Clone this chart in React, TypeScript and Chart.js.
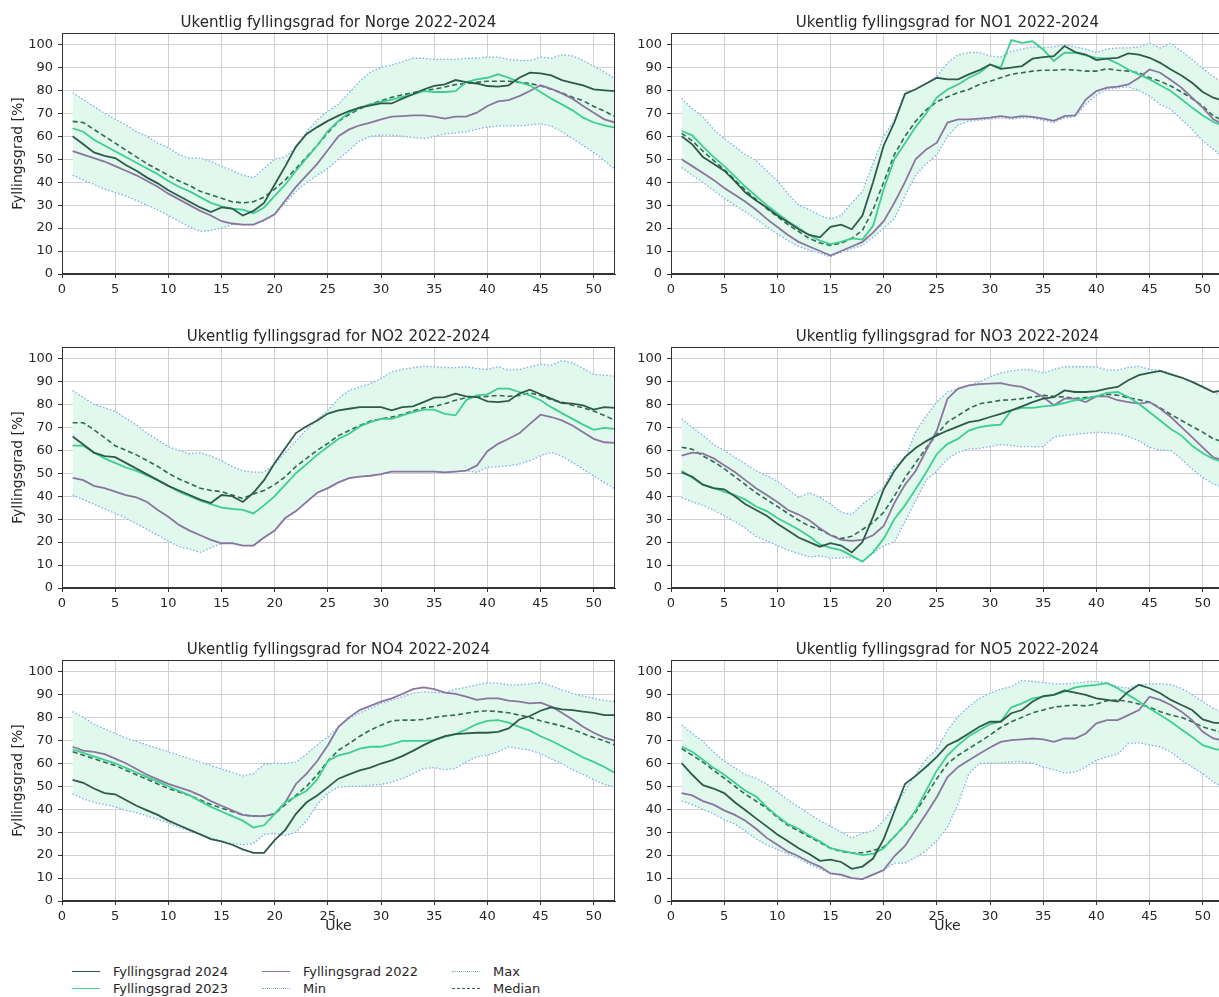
import React, { useEffect, useRef } from 'react';
import { Chart, registerables } from 'chart.js';

Chart.register(...registerables);

const WEEKS = [1, 2, 3, 4, 5, 6, 7, 8, 9, 10, 11, 12, 13, 14, 15, 16, 17, 18, 19, 20, 21, 22, 23, 24, 25, 26, 27, 28, 29, 30, 31, 32, 33, 34, 35, 36, 37, 38, 39, 40, 41, 42, 43, 44, 45, 46, 47, 48, 49, 50, 51, 52];

// ---- Norge ----
const NORGE_2024 = [60, 56.5, 53, 51.5, 50.5, 47.5, 45, 42, 39.5, 36.5, 34, 31.5, 29, 27, 29, 28.5, 25.5, 27.5, 31, 39, 47, 55.5, 61, 64, 66.7, 69, 71, 72.5, 73.5, 74.3, 74.3, 76.4, 78.3, 80.4, 82, 82.6, 84.5, 83.6, 83, 81.9, 81.6, 82.2, 85.5, 87.7, 87.4, 86.5, 84.5, 83.3, 82.2, 80.4, 80, 79.7];
const NORGE_2023 = [63.5, 62, 58.5, 56, 53.5, 51, 48.5, 46, 43.5, 40.5, 38, 36, 33.5, 31, 29.5, 28.5, 28, 26.5, 29, 34, 39, 45, 50.5, 56, 62.3, 66.7, 70.3, 72.5, 73.9, 75, 76, 77.2, 78.3, 79.7, 79.3, 79.3, 79.7, 83.6, 84.8, 85.5, 87, 85.5, 83.6, 82.2, 79.3, 76.4, 73.9, 71.3, 68.1, 66, 64.8, 63.8];
const NORGE_2022 = [53.5, 52, 50.5, 49, 47, 45, 43, 40.5, 38, 35, 32.5, 30, 27.5, 25.5, 23, 22, 21.5, 21.5, 23.5, 26, 32, 38, 43, 48, 54, 60, 63, 64.8, 66, 67.4, 68.6, 68.8, 69.1, 69.1, 68.6, 67.7, 68.6, 68.6, 70.3, 73.2, 75.2, 75.8, 77.5, 79.7, 82.2, 80.7, 78.7, 76.4, 73.2, 70.3, 67.4, 66];
const NORGE_MIN = [43, 41, 39, 37, 35.5, 34, 32, 30, 28, 25.5, 23, 20.5, 18.5, 19, 20, 21.5, 21.5, 21.5, 23, 26, 31, 36, 40, 43, 46, 50, 54, 58, 60, 60.5, 60.5, 60, 59.5, 59, 60, 61, 61.5, 62, 63, 64, 64.5, 64.5, 64.5, 65, 65.5, 64.5, 62, 59, 56, 53, 49.5, 45.5];
const NORGE_MAX = [79, 76, 73, 70, 67.5, 65, 62, 60, 57, 55, 52, 50.5, 50.5, 49, 47, 45, 43, 42, 46, 50, 51, 55, 62, 67, 71, 74, 79, 84, 88, 90, 91, 92.5, 94, 94, 93.5, 93.5, 93.5, 94, 94, 94.5, 94.5, 93.5, 93, 93, 94.5, 94, 95.5, 95, 93, 90.5, 88, 85];
const NORGE_MEDIAN = [66.5, 66, 63, 60, 57, 54, 51, 48, 45.5, 43, 40.5, 38.5, 36, 34.5, 33, 31.5, 31, 31.5, 33.5, 37, 41, 46, 51, 56, 61.6, 66.5, 69.5, 72, 74, 75.5, 77, 78, 79, 80, 80.5, 81.5, 82.5, 83, 83.5, 84, 84, 84, 83.5, 83, 82, 80.5, 79, 77, 75.5, 73, 71, 68.5];

// ---- NO1 ----
const NO1_2024 = [60, 56.5, 51, 48, 45, 40.5, 35.5, 32, 29, 25.5, 22.5, 19.5, 17, 16, 20.5, 21.5, 19.5, 25.5, 40, 56, 66, 78.5, 80.5, 83, 85.5, 84.8, 84.8, 87, 88.8, 91.3, 89.4, 89.9, 90.6, 93.8, 94.5, 94.9, 99.3, 96.7, 95.6, 93.2, 93.8, 94.2, 96.1, 95.6, 94.2, 92, 89.1, 86.5, 83.3, 79.3, 76.8, 75.4];
const NO1_2023 = [62.3, 60.4, 55.5, 51, 47, 42.5, 38, 34, 30, 26.5, 23, 20, 17, 14.5, 13, 14, 15.5, 15, 21, 37, 50, 57, 64, 70, 77, 80.4, 82.6, 85.5, 87.7, 91.3, 89.9, 101.9, 100.7, 101.4, 97.8, 92.8, 96.4, 96.4, 95.2, 94.2, 93.8, 91.7, 89.1, 87, 84.8, 82.2, 79.7, 76.1, 72.5, 69.1, 66.2, 64.5];
const NO1_2022 = [50, 47, 44, 41, 37.5, 34.5, 31.5, 28, 24, 20.5, 17, 14, 12, 10, 8, 10, 12, 14, 18, 23, 31, 40, 50, 54.3, 57.2, 66, 67.4, 67.4, 67.7, 68.1, 68.8, 68.1, 68.8, 68.5, 67.7, 66.7, 68.8, 69.1, 76, 79.7, 81.2, 81.6, 82.6, 85.5, 89.1, 87.7, 84.5, 81.2, 76.8, 72.5, 67.4, 65];
const NO1_MIN = [46.4, 43, 40, 36.5, 33, 30, 27, 24, 20.5, 17.5, 14.5, 12, 10.5, 9, 7.5, 9.5, 11, 12.5, 16, 20, 24, 34, 43, 48, 52, 60, 65, 66.5, 67, 67.5, 68, 67.5, 68, 68, 67, 66, 68, 68.5, 74, 78, 80.5, 81, 81.5, 80, 77.5, 73.9, 71.7, 67.4, 63, 58, 54.3, 50.7];
const NO1_MAX = [76.5, 72, 68.5, 63, 59, 55.5, 52, 49.5, 45, 40.5, 35, 30, 28, 25.5, 24, 25.5, 31, 36, 48, 60, 67, 79, 80.5, 83, 86, 92, 95.5, 96.5, 96.5, 95, 94.5, 97, 98, 99, 98.5, 99, 100, 99, 98, 96.5, 98, 98.5, 98.5, 99, 100.5, 98.5, 100.5, 97, 93.5, 89.5, 86, 83];
const NO1_MEDIAN = [61.3, 58, 53.5, 49.5, 45.5, 41, 36.5, 32.5, 28.5, 25, 21.5, 18.5, 15.5, 13.5, 12.5, 13.5, 15.5, 19, 28, 40, 52, 60, 66.5, 71.5, 75, 77.2, 79, 80.4, 82.6, 84, 85.5, 87, 87.7, 88.4, 88.8, 88.8, 89.1, 88.8, 88.4, 88.4, 89.4, 88.8, 88.4, 87.7, 85.5, 84, 81.9, 79.3, 76.4, 73.2, 68.8, 66.7];

// ---- NO2 ----
const NO2_2024 = [66, 62.5, 59, 57.5, 57, 54.5, 52, 49.5, 47, 44.5, 42.5, 40.5, 38.5, 37, 40.5, 40, 37.5, 41.5, 47, 54.5, 61, 67.5, 70.5, 73, 76, 77.4, 78.1, 78.8, 78.8, 78.8, 77.4, 78.8, 79.1, 81, 82.9, 83.2, 84.7, 83.5, 83.2, 81.3, 81, 81.5, 84.7, 86.4, 84.4, 82.5, 80.6, 80.3, 79.6, 77.7, 78.8, 78.5];
const NO2_2023 = [62, 62, 59, 56.5, 54.5, 52.5, 51, 49, 47, 44.5, 42, 40, 38, 36.5, 35, 34.5, 34, 32.5, 36, 40, 45, 50, 54, 58, 61.5, 65, 67.2, 70.4, 72.3, 73.7, 73.7, 75.2, 76.6, 77.7, 77.7, 75.9, 75.2, 81.8, 83.9, 84.4, 86.9, 86.9, 85.4, 83.9, 81.8, 78.8, 76.2, 73.7, 71.2, 68.9, 69.8, 69.3];
const NO2_2022 = [48, 47, 44.5, 43.5, 42, 40.5, 39.5, 37.5, 34, 31, 27.5, 25, 23, 21, 19.5, 19.5, 18.5, 18.5, 22, 25, 30.5, 33.5, 37.5, 41.5, 43.5, 46, 47.9, 48.5, 48.9, 49.6, 50.7, 50.7, 50.7, 50.7, 50.7, 50.4, 50.7, 51.1, 53.3, 59.6, 62.8, 65, 67.4, 71.5, 75.5, 74.5, 73, 70.8, 67.9, 65, 63.5, 63.2];
const NO2_MIN = [40.6, 38.5, 36.5, 34.5, 32.5, 30.5, 28, 25.5, 23, 20.5, 18, 17, 15.5, 17.5, 19.5, 19.5, 18.5, 18.5, 22, 25, 30.5, 33.5, 37.5, 41.5, 43.5, 46, 47.9, 48.5, 48.9, 49.6, 50.7, 50.7, 50.7, 50.7, 50.7, 50.4, 50.7, 51.1, 50.4, 52.6, 52.8, 53.3, 54, 55.5, 57.7, 59.1, 57.5, 54.7, 51.8, 48.9, 46, 43.1];
const NO2_MAX = [86, 83, 80, 78.5, 77, 74, 71, 67.5, 64.5, 61.5, 60, 58.5, 59, 57.5, 55.5, 53, 51, 50.5, 50.5, 54, 59, 64, 69, 73.5, 77.4, 82.5, 86.1, 87.6, 89, 91.2, 94.2, 95.2, 96, 96.6, 96.4, 96, 96, 96.4, 95.6, 95.2, 96.4, 94.9, 95.2, 96.4, 97.5, 97.1, 99, 98.1, 95.6, 93.1, 92.7, 92.3];
const NO2_MEDIAN = [72, 72, 69, 65.5, 62, 60, 58, 55.5, 53, 50, 47.5, 45.5, 43.5, 42.5, 42, 40.5, 39, 41, 42.5, 45, 48.5, 53, 56.5, 60, 63, 66.4, 68.6, 70.8, 72.7, 73.7, 74.5, 75.6, 77.1, 78.5, 79.1, 80.3, 81.8, 82.9, 83.2, 83.5, 83.9, 83.5, 83.9, 85, 83.9, 82, 81, 79.6, 78.5, 77.1, 75.2, 73];

// ---- NO3 ----
const NO3_2024 = [50.4, 48.5, 45, 43.5, 43, 40, 36.5, 34, 31.5, 28, 25, 22, 20, 18, 19.5, 18.5, 15.5, 20, 31, 43, 51, 57, 61, 64, 66.5, 68.6, 70.4, 72.3, 73, 74.5, 75.9, 77.4, 79.1, 81, 82.5, 83.2, 86.1, 85.4, 85.4, 85.8, 86.9, 87.6, 90.5, 92.7, 93.7, 94.6, 93.1, 91.7, 89.8, 87.6, 85.4, 86.1];
const NO3_2023 = [51.1, 48, 45, 43.5, 42, 40.5, 38.5, 35.5, 33.5, 30.5, 28, 25.5, 22.5, 19, 17.5, 16.5, 14, 11.5, 15.5, 21.5, 30, 36, 43, 50.4, 58.4, 62.8, 65, 68.6, 70.1, 70.8, 71.2, 77.4, 78.5, 78.5, 79.1, 79.6, 80.6, 81.8, 82.5, 83.5, 85, 85.4, 83.2, 80.3, 76.6, 73, 69.3, 66.4, 62, 58.7, 56.2, 54.7];
const NO3_2022 = [57.7, 59, 58.5, 56.5, 53.5, 50.5, 47, 43.5, 40.5, 37.5, 34, 32, 29.5, 26, 23, 21, 20.5, 21, 23, 27, 37, 45, 51, 59.9, 68.6, 82.5, 86.9, 88.3, 88.8, 89, 89.3, 88.3, 87.6, 85.8, 83.2, 79.6, 82.5, 82.5, 81, 83.5, 83.5, 81.8, 81, 80.3, 81, 78.1, 74.5, 70.1, 65.7, 61.3, 56.9, 55.5];
const NO3_MIN = [39.4, 37.5, 36, 34, 31.5, 29, 26, 22.5, 20.5, 18.5, 16.5, 15, 13.5, 14, 13, 13, 13.5, 11.5, 15, 18.5, 20, 29, 38, 47, 51, 56.2, 59.1, 60.6, 60.8, 61.6, 62.5, 62, 61.6, 61.6, 61.6, 65.7, 66.4, 66.9, 67.4, 67.9, 67.6, 67.2, 66, 64.2, 61.3, 60.1, 59.9, 56.2, 51.8, 48.2, 45.3, 43.8];
const NO3_MAX = [73.7, 70, 66.5, 62.5, 60, 57, 54, 51, 49, 46.5, 43, 39.5, 41.5, 39.5, 36.5, 33, 32, 36.5, 40, 44, 53, 56, 68, 75, 81, 85.4, 86.9, 88.3, 89.8, 92, 93.7, 94.6, 95.2, 95, 93.7, 95.2, 96.4, 96.4, 96.4, 96.4, 94.9, 95, 96.1, 96.6, 95.2, 94.9, 93.4, 91.7, 89.8, 87.6, 85.4, 83.2];
const NO3_MEDIAN = [61.3, 60.5, 57.5, 55, 52, 48.5, 45, 41.5, 38.5, 35.5, 32.5, 29.5, 27, 25.5, 23, 21.5, 22.5, 25.5, 28.5, 33, 40, 48, 54.5, 61, 67, 72.3, 75.2, 78.1, 80.3, 81, 81.8, 82, 82.5, 83.2, 83.9, 83.5, 83.2, 82.5, 83, 83.5, 84.4, 84, 82.9, 82, 81, 78.5, 75.6, 73, 70.4, 67.9, 65, 63.5];

// ---- NO4 ----
const NO4_2024 = [52.8, 51.5, 49, 47, 46.5, 44, 41.5, 39.5, 37.5, 35, 33, 31, 29, 27, 26, 24.5, 22.5, 21, 21, 26.5, 31, 38, 43, 46, 49.6, 53.3, 55.2, 56.9, 58.1, 59.9, 61.3, 63.1, 65.4, 67.9, 70.1, 71.8, 72.7, 73, 73.3, 73.3, 73.7, 75.2, 79.1, 80.6, 82.9, 84.4, 83.5, 83.2, 82.5, 82, 81, 81];
const NO4_2023 = [66, 64.5, 63, 61.5, 60, 58, 56, 54, 52, 50, 48, 46, 43.5, 41, 39, 37, 35, 32, 33, 38, 43, 45.5, 48, 53, 61, 63.5, 64.5, 66.4, 67.2, 67.2, 68.3, 69.8, 69.8, 69.8, 70.1, 71.5, 72.7, 74.7, 77.1, 78.5, 78.8, 77.7, 75.9, 74.2, 71.8, 69.8, 67.4, 65, 62.5, 60.6, 58.4, 55.8];
const NO4_2022 = [67.2, 65.5, 65, 64, 62, 60, 57.5, 55, 53, 51, 49.5, 48, 46, 43.5, 41.5, 39.5, 37.5, 37, 37, 38, 43, 51, 55.5, 61, 67.9, 75.9, 80, 83.2, 85, 86.9, 88.3, 90.2, 92.3, 93.1, 92.3, 90.8, 90.2, 89, 87.6, 88.3, 88.3, 87.3, 86.9, 86.1, 86.4, 84.7, 82, 79.1, 75.9, 73.3, 71.2, 69.8];
const NO4_MIN = [46.7, 44.5, 43, 42, 41, 39.5, 38.5, 37, 35.5, 34, 32, 30.5, 29, 27.5, 26, 25, 24.5, 25, 29, 29.5, 28.5, 30, 35, 42, 47, 49.6, 49.9, 49.9, 50.4, 50.8, 51.8, 53.3, 55.5, 57.7, 58.1, 57.2, 57.7, 60.6, 62.8, 63.5, 65, 67.2, 66.4, 65.7, 64.2, 62, 59.9, 57.2, 55.2, 52.8, 50.8, 49.6];
const NO4_MAX = [82.5, 80, 77, 75, 73, 71, 69.5, 68, 66.5, 65, 63.5, 62, 60.5, 59, 57.5, 56, 54.5, 55.5, 59.5, 60, 60, 60.5, 64, 68, 71.5, 75.9, 79.6, 82, 83.9, 86.1, 87.6, 89, 90.5, 91.2, 90.8, 90.8, 92.3, 93.1, 94.2, 94.9, 94.9, 94.2, 94.2, 94.6, 95.2, 93.7, 92, 90.5, 89.3, 88.3, 87.3, 86.9];
const NO4_MEDIAN = [65, 63.5, 62, 60.5, 59, 57, 55, 53, 51, 49, 47.5, 46, 44, 42, 40.5, 39, 37.5, 37, 37, 38, 42, 46, 50, 55, 61, 65.7, 68.6, 71.8, 74.5, 76.6, 78.5, 78.8, 78.8, 79.1, 80, 80.6, 81, 81.8, 82.5, 82.9, 82.5, 82, 81, 80, 78.5, 77.4, 76.2, 74.7, 73, 71.2, 69.8, 67.9];

// ---- NO5 ----
const NO5_2024 = [60.1, 55, 50.5, 49, 47, 43, 39.5, 36, 32.5, 29, 26, 23, 20.5, 17.5, 18, 17, 14, 15, 18.5, 27, 39, 51, 54.5, 58.5, 62.8, 67.9, 70.1, 73, 75.9, 78.1, 78.1, 81.8, 83.2, 86.9, 89.3, 89.8, 91.7, 90.8, 89.8, 88.3, 87.6, 86.9, 91.2, 94.2, 92.7, 90.5, 87.6, 85.4, 83.2, 79.1, 77.7, 77.4];
const NO5_2023 = [67.2, 65, 61.5, 58, 55, 51.5, 48, 45.5, 41, 37, 33.5, 31.5, 28.5, 26, 23, 22, 21, 20, 20.5, 23, 28, 33, 39.4, 48.2, 56.9, 63.5, 67.9, 71.8, 74.5, 77.1, 78.1, 84.4, 86.1, 88.3, 89, 89.8, 91.2, 93.1, 93.7, 94.2, 94.9, 92.7, 89.8, 86.9, 83.9, 81, 78.1, 74.7, 71.5, 67.9, 66.4, 65.4];
const NO5_2022 = [47, 46, 43.5, 42, 39.5, 37.5, 35, 31.5, 27.5, 24.5, 21.5, 19.5, 17, 15, 12, 11.5, 10, 9.5, 11.5, 13.5, 19.5, 24, 31, 38, 45.3, 54, 58.4, 61.3, 64.2, 66.9, 69.3, 70.1, 70.4, 70.8, 70.4, 69.3, 70.8, 70.8, 73, 77.4, 78.8, 78.8, 81, 83.2, 89, 87.6, 85.4, 82.5, 78.8, 73.7, 70.8, 69.8];
const NO5_MIN = [43.5, 42, 40, 38, 35.5, 33.5, 30.5, 27, 24.5, 22.5, 20.5, 18.5, 16, 14, 12, 11, 10, 9.5, 11.5, 13.5, 16.5, 16.5, 19, 21.9, 26.3, 32.1, 42.3, 55.5, 59.9, 60.1, 60.1, 60.6, 60.6, 60.1, 58.4, 57.2, 55.8, 56.2, 58.4, 61.3, 62.8, 63.9, 68.6, 68.9, 67.9, 67.2, 65, 61.3, 58.4, 55.5, 51.8, 49.6];
const NO5_MAX = [76.6, 73, 69.5, 65, 61, 58, 55, 53.5, 51, 47.5, 44, 41, 38, 35, 32.5, 30, 27.5, 29.5, 30.5, 35, 41, 48, 55, 62, 66, 74.5, 80.3, 84.7, 88.3, 90.5, 92.3, 93.4, 96.1, 95.6, 95.2, 94.6, 94.6, 94.9, 95.5, 95.6, 95.2, 93.4, 92.7, 94.2, 94.6, 94.6, 94.2, 92.7, 89.8, 86.9, 83.9, 81.8];
const NO5_MEDIAN = [66.4, 63.5, 60.5, 57, 53.5, 50, 46.5, 43.5, 40.5, 36.5, 33, 30.5, 28, 25.5, 23, 21.5, 21, 21, 22, 23.5, 28, 33, 38.7, 46, 53.3, 59.9, 63.5, 66.4, 69.3, 72.3, 75.6, 78.1, 80, 82, 83.2, 84.4, 85, 85.4, 85, 85.8, 87.3, 87.6, 86.9, 85.8, 84.4, 82.5, 81, 80, 78.1, 75.9, 74.5, 73.3];

const TITLES = [
  'Ukentlig fyllingsgrad for Norge 2022-2024',
  'Ukentlig fyllingsgrad for NO1 2022-2024',
  'Ukentlig fyllingsgrad for NO2 2022-2024',
  'Ukentlig fyllingsgrad for NO3 2022-2024',
  'Ukentlig fyllingsgrad for NO4 2022-2024',
  'Ukentlig fyllingsgrad for NO5 2022-2024',
];
const SERIES_LABELS = ['Fyllingsgrad 2024', 'Fyllingsgrad 2023', 'Fyllingsgrad 2022', 'Min', 'Max', 'Median'];

const PANEL_DATA = [
  [NORGE_2024, NORGE_2023, NORGE_2022, NORGE_MIN, NORGE_MAX, NORGE_MEDIAN],
  [NO1_2024, NO1_2023, NO1_2022, NO1_MIN, NO1_MAX, NO1_MEDIAN],
  [NO2_2024, NO2_2023, NO2_2022, NO2_MIN, NO2_MAX, NO2_MEDIAN],
  [NO3_2024, NO3_2023, NO3_2022, NO3_MIN, NO3_MAX, NO3_MEDIAN],
  [NO4_2024, NO4_2023, NO4_2022, NO4_MIN, NO4_MAX, NO4_MEDIAN],
  [NO5_2024, NO5_2023, NO5_2022, NO5_MIN, NO5_MAX, NO5_MEDIAN],
];

const FONT = 'DejaVu Sans';
const TEXT = '#262626';
const C2024 = '#2e5a4b';
const C2023 = '#3ccf8f';
const C2022 = '#8c74a0';
const CMINMAX = '#7eaee6';
const CMED = '#2f6b50';
const FILL = '#e1f8ed';
const GRID = '#d0d0d0';
const SPINE = '#333333';

// layout geometry
const COL_LEFT = [0, 621];
const COL_WIDTH = [620, 610];
const COL_PAD_LEFT = [6, 0];
const COL_PAD_RIGHT = [5, 7];
const COL_YW = [56, 50];
const ROW_TOP = [11, 325, 638];
const PLOT_H = 241;
const ROW_XH = [25, 25, 38];
const TITLE_BOX = 22;

const framePlugin = {
  id: 'frame',
  afterDraw(chart: any) {
    const { ctx, chartArea } = chart;
    ctx.save();
    ctx.strokeStyle = SPINE;
    ctx.lineWidth = 1;
    const l = Math.round(chartArea.left) + 0.5;
    const t = Math.round(chartArea.top) + 0.5;
    const r = Math.round(chartArea.right) - 0.5;
    const b = Math.round(chartArea.bottom) - 0.5;
    ctx.strokeRect(l, t, r - l, b - t);
    ctx.restore();
  },
};

function Panel({ idx }: { idx: number }) {
  const ref = useRef<HTMLCanvasElement>(null);
  const col = idx % 2;
  const row = Math.floor(idx / 2);
  const width = COL_WIDTH[col];
  const height = TITLE_BOX + PLOT_H + ROW_XH[row];

  useEffect(() => {
    const series = PANEL_DATA[idx];
    const pts = (arr: number[]) => WEEKS.map((w, i) => ({ x: w, y: arr[i] }));
    const base = { pointRadius: 0, pointHoverRadius: 0, tension: 0, fill: false };
    const datasets: any[] = [
      { ...base, label: SERIES_LABELS[0], data: pts(series[0]), borderColor: C2024, borderWidth: 1.8 },
      { ...base, label: SERIES_LABELS[1], data: pts(series[1]), borderColor: C2023, borderWidth: 1.8 },
      { ...base, label: SERIES_LABELS[2], data: pts(series[2]), borderColor: C2022, borderWidth: 1.8 },
      { ...base, label: SERIES_LABELS[3], data: pts(series[3]), borderColor: CMINMAX, borderWidth: 1.3, borderDash: [1.5, 2] },
      { ...base, label: SERIES_LABELS[4], data: pts(series[4]), borderColor: CMINMAX, borderWidth: 1.3, borderDash: [1.5, 2], fill: { target: 3 }, backgroundColor: FILL },
      { ...base, label: SERIES_LABELS[5], data: pts(series[5]), borderColor: CMED, borderWidth: 1.6, borderDash: [5, 3] },
    ];
    const tickFont = { family: FONT, size: 13 };
    const chart = new Chart(ref.current as HTMLCanvasElement, {
      type: 'line',
      data: { datasets },
      plugins: [framePlugin],
      options: {
        responsive: false,
        animation: false,
        devicePixelRatio: 1,
        layout: { padding: { left: COL_PAD_LEFT[col], right: COL_PAD_RIGHT[col], top: 0, bottom: 0 } },
        plugins: {
          legend: { display: false },
          tooltip: { enabled: false },
          filler: { drawTime: 'beforeDatasetsDraw' },
          title: {
            display: true,
            text: TITLES[idx],
            fullSize: false,
            color: TEXT,
            font: { family: FONT, size: 15, weight: 'normal', lineHeight: 1.2 },
            padding: { top: 3, bottom: 1 },
          },
        },
        scales: {
          x: {
            type: 'linear',
            min: 0,
            max: 52,
            ticks: { stepSize: 5, includeBounds: false, color: TEXT, font: tickFont, padding: 4, maxRotation: 0, autoSkip: false },
            grid: { color: GRID, tickColor: SPINE, tickLength: 4, lineWidth: 1 },
            border: { color: SPINE, width: 1 },
            title: {
              display: row === 2,
              text: 'Uke',
              color: TEXT,
              font: { family: FONT, size: 14 },
              padding: { top: 0, bottom: 4 },
            },
            afterFit: (s: any) => { s.height = ROW_XH[row]; },
          },
          y: {
            type: 'linear',
            min: 0,
            max: 105,
            ticks: { stepSize: 10, includeBounds: false, color: TEXT, font: tickFont, padding: 5 },
            grid: { color: GRID, tickColor: SPINE, tickLength: 4, lineWidth: 1 },
            border: { color: SPINE, width: 1 },
            title: {
              display: col === 0,
              text: 'Fyllingsgrad [%]',
              color: TEXT,
              font: { family: FONT, size: 14 },
              padding: { top: 4, bottom: 4 },
            },
            afterFit: (s: any) => { s.width = COL_YW[col]; },
          },
        },
      } as any,
    });
    return () => chart.destroy();
  }, [idx]);

  return (
    <canvas
      ref={ref}
      width={width}
      height={height}
      style={{ position: 'absolute', left: COL_LEFT[col], top: ROW_TOP[row], width, height }}
    />
  );
}

const LEGEND_ITEMS = [
  { label: SERIES_LABELS[0], color: C2024, style: 'solid', x: 72, y: 971 },
  { label: SERIES_LABELS[1], color: C2023, style: 'solid', x: 72, y: 988 },
  { label: SERIES_LABELS[2], color: C2022, style: 'solid', x: 262, y: 971 },
  { label: SERIES_LABELS[3], color: CMINMAX, style: 'dotted', x: 262, y: 988 },
  { label: SERIES_LABELS[4], color: CMINMAX, style: 'dotted', x: 452, y: 971 },
  { label: SERIES_LABELS[5], color: CMED, style: 'dashed', x: 452, y: 988 },
];

export default function App() {
  return (
    <div style={{ position: 'fixed', left: 0, top: 0, width: 1219, height: 997, overflow: 'hidden', background: '#fff' }}>
      {[0, 1, 2, 3, 4, 5].map((i) => (
        <Panel key={i} idx={i} />
      ))}
      {LEGEND_ITEMS.map((it) => (
        <div key={it.label} style={{ position: 'absolute', left: it.x, top: it.y - 9, height: 18, display: 'flex', alignItems: 'center', fontFamily: FONT, fontSize: 13, color: TEXT, whiteSpace: 'nowrap' }}>
          <span style={{ display: 'inline-block', width: 28, height: 0, borderTop: `${it.style === 'solid' ? 1.8 : 1.5}px ${it.style} ${it.color}`, marginRight: 13 }} />
          <span>{it.label}</span>
        </div>
      ))}
    </div>
  );
}
